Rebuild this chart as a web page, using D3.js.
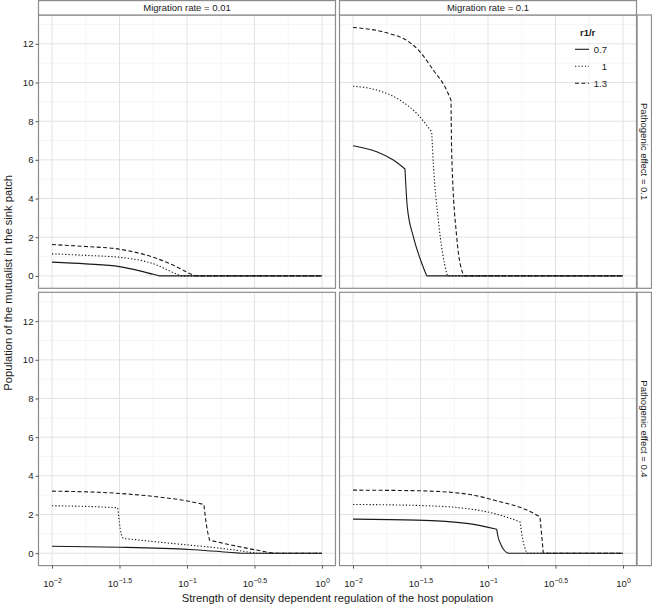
<!DOCTYPE html>
<html>
<head>
<meta charset="utf-8">
<script src="https://cdn.jsdelivr.net/npm/d3@7"></script>
<style>
  html, body { margin: 0; padding: 0; background: #fff; }
  svg { display: block; font-family: "Liberation Sans", Arial, Helvetica, sans-serif; }
</style>
</head>
<body>
<svg id="chart" width="652" height="608"></svg>
<script>
// ---------------- DATA ----------------
const migrationRates = ["0.01", "0.1"];          // columns
const pathogenicEffects = ["0.1", "0.4"];        // rows
const ratioLevels = ["0.7", "1", "1.3"];         // r1/r legend
const xTickExponents = [-2, -1.5, -1, -0.5, 0];   // tick labels 10^e
const yTicks = [0, 2, 4, 6, 8, 10, 12];

// [strength of density dependent regulation, mutualist population]
// Migration 0.01, pathogenic effect 0.1
const m001_p01_r07 = [[0.01,0.71],[0.01778,0.62],[0.03162,0.48],[0.04467,0.26],[0.0562,0.08],[0.0625,0],[1,0]];
const m001_p01_r10 = [[0.01,1.14],[0.01778,1.06],[0.03162,0.96],[0.05916,0.57],[0.0708,0.33],[0.0851,0.07],[0.0912,0],[1,0]];
const m001_p01_r13 = [[0.01,1.62],[0.01778,1.52],[0.03162,1.38],[0.05916,0.91],[0.0879,0.40],[0.1047,0.12],[0.1169,0],[1,0]];
// Migration 0.1, pathogenic effect 0.1
const m01_p01_r07 = [[0.01,6.73],[0.0150,6.42],[0.0199,5.99],[0.02427,5.53],[0.02523,3.58],[0.02799,2.03],[0.03133,0.91],[0.03516,0],[1,0]];
const m01_p01_r10 = [[0.01,9.81],[0.0150,9.61],[0.02228,9.09],[0.02965,8.40],[0.03828,7.45],[0.03936,5.82],[0.04285,2.89],[0.04943,0.14],[0.05012,0],[1,0]];
const m01_p01_r13 = [[0.01,12.85],[0.01679,12.62],[0.01995,12.47],[0.0236,12.28],[0.03133,11.59],[0.03936,10.64],[0.04797,9.78],[0.05321,9.09],[0.05383,6.34],[0.05861,2.03],[0.06561,0.05],[0.067,0],[1,0]];
// Migration 0.01, pathogenic effect 0.4
const m001_p04_r07 = [[0.01,0.36],[0.03162,0.31],[0.1045,0.19],[0.2455,0],[1,0]];
const m001_p04_r10 = [[0.01,2.45],[0.01778,2.42],[0.03069,2.35],[0.03251,1.02],[0.03381,0.76],[0.07852,0.50],[0.1845,0.24],[0.3258,0],[1,0]];
const m001_p04_r13 = [[0.01,3.21],[0.03162,3.09],[0.05916,2.92],[0.09863,2.71],[0.1334,2.52],[0.1387,1.54],[0.1469,0.67],[0.2455,0.33],[0.4335,0],[1,0]];
// Migration 0.1, pathogenic effect 0.4
const m01_p04_r07 = [[0.01,1.76],[0.02965,1.71],[0.0695,1.54],[0.1159,1.24],[0.1186,0.85],[0.1245,0.45],[0.1318,0.15],[0.137,0.04],[0.1413,0],[1,0]];
const m01_p04_r10 = [[0.01,2.52],[0.02965,2.47],[0.0695,2.31],[0.1227,1.97],[0.1726,1.62],[0.1799,0.80],[0.1936,0],[1,0]];
const m01_p04_r13 = [[0.01,3.26],[0.02965,3.23],[0.0695,3.06],[0.1227,2.66],[0.1828,2.31],[0.2427,1.88],[0.2570,0],[1,0]];

const panelSeries = [
  [ [m001_p01_r07, m001_p01_r10, m001_p01_r13], [m01_p01_r07, m01_p01_r10, m01_p01_r13] ],
  [ [m001_p04_r07, m001_p04_r10, m001_p04_r13], [m01_p04_r07, m01_p04_r10, m01_p04_r13] ]
];

// ---------------- LAYOUT ----------------
const svg = d3.select("#chart");
const colX = [[38.5, 335.5], [339.5, 636.5]];
const rowY = [[15, 288.3], [292.3, 565.6]];
const borderCol = "#8c8c8c";
const dashes = [null, "1.3,2", "4,2.4"];
const yMaxData = 12.85, yExp = yMaxData * 0.05;

const xRange0 = [Math.pow(10, -2.1), Math.pow(10, 0.1)];

// draw smooth pieces, keeping sharp corners where the curve bends abruptly
function smoothPath(pts) {
  const pieces = [];
  let cur = [pts[0]];
  for (let i = 1; i < pts.length; i++) {
    cur.push(pts[i]);
    if (i < pts.length - 1) {
      const a1 = Math.atan2(pts[i][1] - pts[i-1][1], pts[i][0] - pts[i-1][0]);
      const a2 = Math.atan2(pts[i+1][1] - pts[i][1], pts[i+1][0] - pts[i][0]);
      const diff = Math.abs(a2 - a1) * 180 / Math.PI;
      const zeroJoin = pts[i][2] === 0 && pts[i-1][2] > 0;
      if (diff > 22 || zeroJoin) { pieces.push(cur); cur = [pts[i]]; }
    }
  }
  pieces.push(cur);
  const ln = d3.line().curve(d3.curveMonotoneX);
  let dstr = ln(pieces[0]);
  for (let k = 1; k < pieces.length; k++) dstr += ln(pieces[k]).replace(/^M[^CLZ]*/, "");
  return dstr;
}

rowY.forEach((ry, r) => {
  colX.forEach((cx, c) => {
    const x = d3.scaleLog().domain(xRange0).range(cx);
    const y = d3.scaleLinear().domain([-yExp, yMaxData + yExp]).range([ry[1], ry[0]]);
    const g = svg.append("g");

    g.append("rect").attr("x", cx[0]).attr("y", ry[0]).attr("width", cx[1]-cx[0]).attr("height", ry[1]-ry[0]).attr("fill", "#fff");

    // minor grid
    const minorX = d3.pairs(xTickExponents).map(p => Math.pow(10, (p[0]+p[1])/2));
    g.selectAll(".mx").data(minorX).enter().append("line")
      .attr("x1", d => x(d)).attr("x2", d => x(d)).attr("y1", ry[0]).attr("y2", ry[1])
      .attr("stroke", "#f0f0f0").attr("stroke-width", 0.6);
    const minorY = d3.range(1, 14, 2);
    g.selectAll(".my").data(minorY).enter().append("line")
      .attr("x1", cx[0]).attr("x2", cx[1]).attr("y1", d => y(d)).attr("y2", d => y(d))
      .attr("stroke", "#f0f0f0").attr("stroke-width", 0.6);
    // major grid
    g.selectAll(".gx").data(xTickExponents).enter().append("line")
      .attr("x1", d => x(Math.pow(10,d))).attr("x2", d => x(Math.pow(10,d))).attr("y1", ry[0]).attr("y2", ry[1])
      .attr("stroke", "#e2e2e2").attr("stroke-width", 1);
    g.selectAll(".gy").data(yTicks).enter().append("line")
      .attr("x1", cx[0]).attr("x2", cx[1]).attr("y1", d => y(d)).attr("y2", d => y(d))
      .attr("stroke", "#e2e2e2").attr("stroke-width", 1);

    // lines
    panelSeries[r][c].forEach((s, i) => {
      const pts = s.map(d => [x(d[0]), y(d[1]), d[1]]);
      g.append("path").attr("d", smoothPath(pts))
        .attr("fill", "none").attr("stroke", "#1a1a1a").attr("stroke-width", 1.1)
        .attr("stroke-linejoin", "round")
        .attr("stroke-dasharray", dashes[i]);
    });

    // border
    g.append("rect").attr("x", cx[0]).attr("y", ry[0]).attr("width", cx[1]-cx[0]).attr("height", ry[1]-ry[0])
      .attr("fill", "none").attr("stroke", borderCol).attr("stroke-width", 1.2);

    // y axis on left column
    if (c === 0) {
      const ya = d3.axisLeft(y).tickValues(yTicks).tickSize(3).tickPadding(2);
      const ag = g.append("g").attr("transform", `translate(${cx[0]},0)`).call(ya);
      ag.select(".domain").remove();
      ag.selectAll(".tick line").attr("stroke", "#555");
      ag.selectAll("text").attr("font-size", 9.6).attr("fill", "#222").attr("font-family", "Liberation Sans, Arial, sans-serif");
    }
    // x axis on bottom row
    if (r === 1) {
      const xa = d3.axisBottom(x).tickValues(xTickExponents.map(e => Math.pow(10, e))).tickSize(3).tickFormat("");
      const ag = g.append("g").attr("transform", `translate(0,${ry[1]})`).call(xa);
      ag.select(".domain").remove();
      ag.selectAll(".tick line").attr("stroke", "#555");
      ag.selectAll(".tick").each(function(d, i) {
        const t = d3.select(this).append("text").attr("y", 21.5).attr("fill", "#222")
          .attr("text-anchor", "middle").attr("font-size", 9.6).attr("font-family", "Liberation Sans, Arial, sans-serif");
        t.append("tspan").text("10");
        t.append("tspan").attr("dy", -4.5).attr("font-size", 7)
          .text(String(xTickExponents[i]).replace("-", "\u2212"));
      });
    }

    // top strips
    if (r === 0) {
      g.append("rect").attr("x", cx[0]).attr("y", 0.6).attr("width", cx[1]-cx[0]).attr("height", ry[0]-0.6)
        .attr("fill", "#fff").attr("stroke", borderCol).attr("stroke-width", 1.2);
      g.append("text").attr("x", (cx[0]+cx[1])/2).attr("y", 11.3).attr("text-anchor", "middle")
        .attr("font-size", 9.5).attr("fill", "#1a1a1a").text(`Migration rate = ${migrationRates[c]}`);
    }
    // right strips
    if (c === 1) {
      g.append("rect").attr("x", cx[1]+0.6).attr("y", ry[0]).attr("width", 14.4).attr("height", ry[1]-ry[0])
        .attr("fill", "#fff").attr("stroke", borderCol).attr("stroke-width", 1.2);
      const mx = cx[1] + 7.8, my = (ry[0]+ry[1])/2;
      g.append("text").attr("transform", `translate(${mx},${my}) rotate(90)`).attr("text-anchor", "middle")
        .attr("dy", "0.35em").attr("font-size", 9.5).attr("fill", "#1a1a1a")
        .text(`Pathogenic effect = ${pathogenicEffects[r]}`);
    }
  });
});

// legend
const lg = svg.append("g").attr("transform", "translate(574,0)");
lg.append("text").attr("x", 6).attr("y", 36).attr("font-size", 9.5).attr("font-weight", "bold").attr("fill", "#1a1a1a").text("r1/r");
ratioLevels.forEach((lv, i) => {
  const yy = 49.3 + i * 17;
  lg.append("line").attr("x1", 1).attr("x2", 15).attr("y1", yy).attr("y2", yy)
    .attr("stroke", "#1a1a1a").attr("stroke-width", 1.1).attr("stroke-dasharray", dashes[i]);
  lg.append("text").attr("x", 33).attr("y", yy + 3.4).attr("text-anchor", "end")
    .attr("font-size", 9.5).attr("fill", "#1a1a1a").text(lv);
});

// axis titles
svg.append("text").attr("x", (colX[0][0] + colX[1][1]) / 2).attr("y", 601.5).attr("text-anchor", "middle")
  .attr("font-size", 11.2).attr("fill", "#1a1a1a").text("Strength of density dependent regulation of the host population");
svg.append("text").attr("transform", `translate(11.5,${rowY[1][1] / 2}) rotate(-90)`)
  .attr("text-anchor", "middle").attr("font-size", 11.2).attr("fill", "#1a1a1a")
  .text("Population of the mutualist in the sink patch");
</script>
</body>
</html>
